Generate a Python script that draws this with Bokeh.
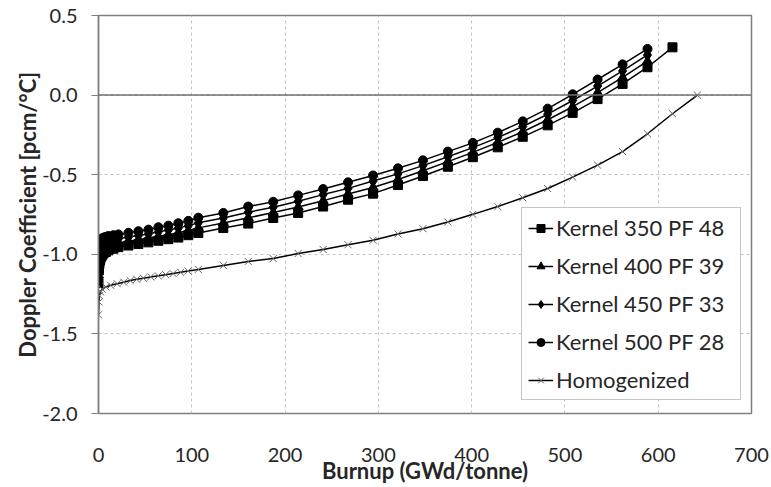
from bokeh.plotting import figure
from bokeh.models import Range1d, FixedTicker, PrintfTickFormatter, Span
from bokeh.embed import file_html
from bokeh.resources import INLINE

# ---------------- data ----------------
burnup_kernel = [0, 0.5, 1, 1.5, 2, 3, 4, 5.4, 8, 10.7, 16, 21.4, 32.1, 42.8, 53.5, 64.2,
                 74.9, 85.6, 96.3, 107, 133.8, 160.5, 187.3, 214, 240.8, 267.5, 294.3,
                 321, 347.8, 374.5, 401.3, 428, 454.8, 481.5, 508.3, 535, 561.8, 588.5]
burnup_k350 = burnup_kernel + [615.3]

k350 = [-1.18, -1.10, -1.06, -1.04, -1.03, -1.015, -1.005, -0.995, -0.985, -0.975, -0.965,
        -0.955, -0.945, -0.935, -0.925, -0.915, -0.905, -0.895, -0.88, -0.866, -0.835,
        -0.807, -0.772, -0.74, -0.70, -0.657, -0.619, -0.565, -0.508, -0.45, -0.39,
        -0.328, -0.262, -0.19, -0.112, -0.025, 0.07, 0.175, 0.30]
k400 = [-1.13, -1.055, -1.02, -1.005, -0.995, -0.98, -0.97, -0.962, -0.953, -0.945, -0.937,
        -0.928, -0.918, -0.908, -0.898, -0.887, -0.877, -0.865, -0.85, -0.834, -0.803,
        -0.771, -0.738, -0.703, -0.663, -0.621, -0.58, -0.53, -0.475, -0.418, -0.36,
        -0.297, -0.23, -0.155, -0.073, 0.016, 0.111, 0.213]
k450 = [-1.08, -1.01, -0.985, -0.965, -0.955, -0.945, -0.935, -0.928, -0.922, -0.915, -0.908,
        -0.902, -0.892, -0.882, -0.872, -0.858, -0.848, -0.835, -0.82, -0.802, -0.772,
        -0.736, -0.704, -0.667, -0.625, -0.586, -0.54, -0.495, -0.443, -0.387, -0.33,
        -0.267, -0.197, -0.12, -0.034, 0.057, 0.152, 0.252]
k500 = [-1.03, -0.97, -0.945, -0.93, -0.92, -0.91, -0.90, -0.895, -0.89, -0.885, -0.88,
        -0.875, -0.865, -0.855, -0.845, -0.83, -0.82, -0.805, -0.79, -0.77, -0.74,
        -0.70, -0.67, -0.63, -0.59, -0.548, -0.505, -0.46, -0.41, -0.355, -0.30,
        -0.236, -0.165, -0.085, 0.005, 0.098, 0.193, 0.29]

burnup_homog = [0, 0.5, 1, 2, 4, 8, 13, 20, 27, 34, 41, 48, 56, 64, 72, 80, 88, 96, 107,
                133.8, 160.5, 187.3, 214, 240.8, 267.5, 294.3, 321, 347.8, 374.5, 401.3,
                428, 454.8, 481.5, 508.3, 535, 561.8, 588.5, 615.3, 642]
homog = [-1.38, -1.30, -1.26, -1.235, -1.22, -1.205, -1.195, -1.185, -1.175, -1.165, -1.157,
         -1.15, -1.142, -1.135, -1.128, -1.121, -1.113, -1.105, -1.095, -1.07, -1.045,
         -1.027, -0.995, -0.97, -0.94, -0.912, -0.872, -0.839, -0.797, -0.749, -0.70,
         -0.645, -0.587, -0.515, -0.44, -0.355, -0.243, -0.117, 0.0]

x_ticks = [0, 100, 200, 300, 400, 500, 600, 700]
y_ticks = [-2.0, -1.5, -1.0, -0.5, 0.0, 0.5]

FONT = "Lato"
TXT = "#262626"

p = figure(width=771, height=487, output_backend="svg", toolbar_location=None,
           x_range=Range1d(0, 700), y_range=Range1d(-2.0, 0.5),
           min_border_left=98, min_border_right=20, min_border_top=15, min_border_bottom=74,
           background_fill_color="white", border_fill_color="white")

p.outline_line_color = "#7f7f7f"
p.outline_line_width = 1.5

# grid
p.xgrid.ticker = FixedTicker(ticks=x_ticks)
p.ygrid.ticker = FixedTicker(ticks=y_ticks)
for g in (p.xgrid, p.ygrid):
    g.grid_line_color = "#c4c4c4"
    g.grid_line_dash = "3 3"
    g.grid_line_width = 1

# axes
p.xaxis.ticker = FixedTicker(ticks=x_ticks)
p.yaxis.ticker = FixedTicker(ticks=y_ticks)
p.yaxis.formatter = PrintfTickFormatter(format="%.1f")
p.xaxis.axis_line_color = None
p.xaxis.major_tick_line_color = None
p.xaxis.minor_tick_line_color = None
p.xaxis.major_label_standoff = 28
p.yaxis.axis_line_color = "#808080"
p.yaxis.axis_line_width = 1.5
p.yaxis.major_tick_line_color = "#808080"
p.yaxis.major_tick_out = 7
p.yaxis.major_tick_in = 0
p.yaxis.minor_tick_line_color = None
p.yaxis.major_label_standoff = 14

for ax in (p.xaxis, p.yaxis):
    ax.major_label_text_font = FONT
    ax.major_label_text_font_size = "20px"
    ax.major_label_text_color = TXT
    ax.axis_label_text_font = FONT
    ax.axis_label_text_font_size = "22px"
    ax.axis_label_text_font_style = "bold"
    ax.axis_label_text_color = TXT

p.xaxis.axis_label = "Burnup (GWd/tonne)"
p.xaxis.axis_label_standoff = -8
p.yaxis.axis_label = "Doppler Coefficient [pcm/°C]"
p.yaxis.axis_label_standoff = -2

# zero line (horizontal axis crossing)
p.add_layout(Span(location=0, dimension="width", line_color="#707070", line_width=1.5))

# series
LW = 1.5
p.line(burnup_k350, k350, line_color="black", line_width=LW, legend_label="Kernel 350 PF 48")
p.scatter(burnup_k350, k350, marker="square", size=9, fill_color="black", line_color="black",
          legend_label="Kernel 350 PF 48")

p.line(burnup_kernel, k400, line_color="black", line_width=LW, legend_label="Kernel 400 PF 39")
p.scatter(burnup_kernel, k400, marker="triangle", size=10, fill_color="black", line_color="black",
          legend_label="Kernel 400 PF 39")

p.line(burnup_kernel, k450, line_color="black", line_width=LW, legend_label="Kernel 450 PF 33")
p.scatter(burnup_kernel, k450, marker="diamond", size=12, fill_color="black", line_color="black",
          legend_label="Kernel 450 PF 33")

p.line(burnup_kernel, k500, line_color="black", line_width=LW, legend_label="Kernel 500 PF 28")
p.scatter(burnup_kernel, k500, marker="circle", size=9, fill_color="black", line_color="black",
          legend_label="Kernel 500 PF 28")

p.line(burnup_homog, homog, line_color="black", line_width=LW, legend_label="Homogenized")
p.scatter(burnup_homog, homog, marker="x", size=10, line_color="#666666", line_width=1,
          legend_label="Homogenized")

# legend
lg = p.legend[0]
lg.location = (423, 13)
lg.border_line_color = "#8c8c8c"
lg.border_line_width = 1
lg.background_fill_color = "white"
lg.background_fill_alpha = 1
lg.label_text_font = FONT
lg.label_text_font_size = "22px"
lg.label_text_color = TXT
lg.glyph_width = 25
lg.glyph_height = 20
lg.label_height = 20
lg.label_width = 178
lg.label_standoff = 3
lg.spacing = 11
lg.padding = 6
lg.margin = 0

open("out.html", "w").write(file_html(p, INLINE))
